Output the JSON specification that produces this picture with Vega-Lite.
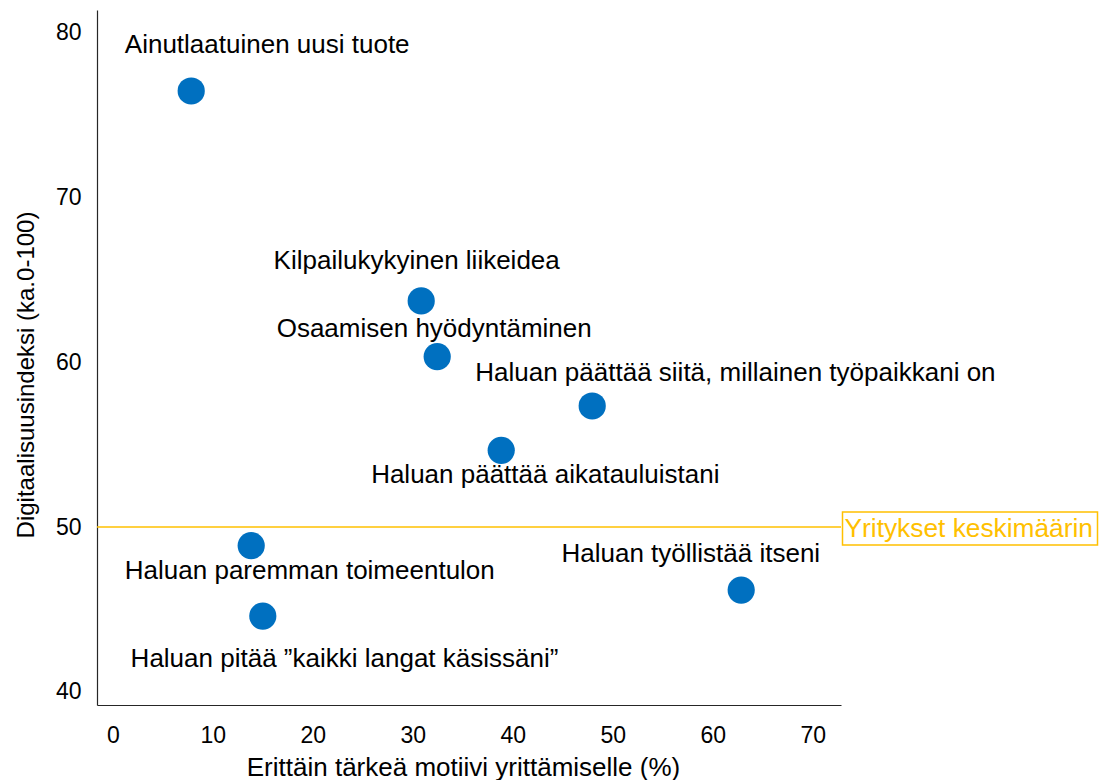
{
  "$schema": "https://vega.github.io/schema/vega-lite/v6.json",
  "width": 744,
  "height": 695,
  "autosize": "none",
  "padding": {"left": 97, "top": 10, "right": 258, "bottom": 75},
  "background": "white",
  "config": {
    "view": {"stroke": null},
    "font": "Liberation Sans",
    "axis": {
      "grid": false,
      "ticks": false,
      "domainColor": "#262626",
      "domainWidth": 1.2,
      "labelColor": "#000000",
      "titleColor": "#000000",
      "labelFont": "Liberation Sans",
      "titleFont": "Liberation Sans",
      "titleFontWeight": "normal",
      "labelFlush": false,
      "labelOverlap": false
    }
  },
  "datasets": {
    "motives": [
      {"id": 1, "label": "Ainutlaatuinen uusi tuote", "x": 7.84, "y": 76.44},
      {"id": 2, "label": "Kilpailukykyinen liikeidea", "x": 30.84, "y": 63.71},
      {"id": 3, "label": "Osaamisen hyödyntäminen", "x": 32.44, "y": 60.33},
      {"id": 4, "label": "Haluan päättää siitä, millainen työpaikkani on", "x": 47.94, "y": 57.34},
      {"id": 5, "label": "Haluan päättää aikatauluistani", "x": 38.84, "y": 54.65},
      {"id": 6, "label": "Haluan paremman toimeentulon", "x": 13.84, "y": 48.87},
      {"id": 7, "label": "Haluan pitää ”kaikki langat käsissäni”", "x": 15.0, "y": 44.6},
      {"id": 8, "label": "Haluan työllistää itseni", "x": 62.84, "y": 46.18}
    ],
    "average": [
      {"avgLabel": "Yritykset keskimäärin", "avg": 50}
    ]
  },
  "layer": [
    {
      "data": {"name": "average"},
      "mark": {"type": "rule", "color": "#FFC000", "strokeWidth": 1.6},
      "encoding": {
        "y": {"field": "avg", "type": "quantitative", "title": "Digitaalisuusindeksi (ka.0-100)", "scale": {"domain": [39.21, 81.35], "nice": false, "zero": false}}
      }
    },
    {
      "data": {"name": "average"},
      "mark": {"type": "rect", "fillOpacity": 0, "fill": "white", "stroke": "#FFC000", "strokeWidth": 1.5},
      "encoding": {
        "x": {"datum": 72.97, "type": "quantitative", "title": "Erittäin tärkeä motiivi yrittämiselle (%)", "scale": {"domain": [-1.58, 72.82], "nice": false, "zero": false}},
        "x2": {"datum": 98.47},
        "y": {"datum": 50.91, "type": "quantitative", "title": "Digitaalisuusindeksi (ka.0-100)", "scale": {"domain": [39.21, 81.35], "nice": false, "zero": false}},
        "y2": {"datum": 48.91}
      }
    },
    {
      "data": {"name": "average"},
      "mark": {"type": "text", "align": "left", "baseline": "alphabetic", "dy": 10.3, "fontSize": 26.3, "color": "#FFC000", "font": "Liberation Sans"},
      "encoding": {
        "x": {"datum": 73.17, "type": "quantitative", "title": "Erittäin tärkeä motiivi yrittämiselle (%)", "scale": {"domain": [-1.58, 72.82], "nice": false, "zero": false}},
        "y": {"field": "avg", "type": "quantitative", "title": "Digitaalisuusindeksi (ka.0-100)", "scale": {"domain": [39.21, 81.35], "nice": false, "zero": false}},
        "text": {"field": "avgLabel"}
      }
    },
    {
      "data": {"name": "motives"},
      "encoding": {
        "x": {
          "field": "x",
          "type": "quantitative",
          "title": "Erittäin tärkeä motiivi yrittämiselle (%)",
          "scale": {"domain": [-1.58, 72.82], "nice": false, "zero": false},
          "axis": {
            "values": [0, 10, 20, 30, 40, 50, 60, 70],
            "title": "Erittäin tärkeä motiivi yrittämiselle (%)",
            "labelFontSize": 23,
            "labelPadding": 37,
            "labelBaseline": "alphabetic",
            "titleFontSize": 26,
            "titleX": 366,
            "titleY": 70,
            "titleBaseline": "alphabetic"
          }
        },
        "y": {
          "field": "y",
          "type": "quantitative",
          "title": "Digitaalisuusindeksi (ka.0-100)",
          "scale": {"domain": [39.21, 81.35], "nice": false, "zero": false},
          "axis": {
            "values": [40, 50, 60, 70, 80],
            "title": "Digitaalisuusindeksi (ka.0-100)",
            "labelFontSize": 23,
            "labelPadding": 16,
            "titleFontSize": 24,
            "titleX": -64,
            "titleY": 364.5,
            "titleBaseline": "alphabetic"
          }
        }
      },
      "layer": [
        {"mark": {"type": "circle", "size": 740, "color": "#0070C0", "opacity": 1}},
        {"transform": [{"filter": "datum.id === 1"}], "mark": {"type": "text", "align": "center", "baseline": "alphabetic", "fontSize": 26, "color": "#000000", "font": "Liberation Sans", "dx": 76, "dy": -37.7}, "encoding": {"text": {"field": "label"}}},
        {"transform": [{"filter": "datum.id === 2"}], "mark": {"type": "text", "align": "center", "baseline": "alphabetic", "fontSize": 26, "color": "#000000", "font": "Liberation Sans", "dx": -4.5, "dy": -31.7}, "encoding": {"text": {"field": "label"}}},
        {"transform": [{"filter": "datum.id === 3"}], "mark": {"type": "text", "align": "center", "baseline": "alphabetic", "fontSize": 26, "color": "#000000", "font": "Liberation Sans", "dx": -3, "dy": -20}, "encoding": {"text": {"field": "label"}}},
        {"transform": [{"filter": "datum.id === 4"}], "mark": {"type": "text", "align": "center", "baseline": "alphabetic", "fontSize": 26, "color": "#000000", "font": "Liberation Sans", "dx": 143.2, "dy": -25}, "encoding": {"text": {"field": "label"}}},
        {"transform": [{"filter": "datum.id === 5"}], "mark": {"type": "text", "align": "center", "baseline": "alphabetic", "fontSize": 26, "color": "#000000", "font": "Liberation Sans", "dx": 44.1, "dy": 32.4}, "encoding": {"text": {"field": "label"}}},
        {"transform": [{"filter": "datum.id === 6"}], "mark": {"type": "text", "align": "center", "baseline": "alphabetic", "fontSize": 26, "color": "#000000", "font": "Liberation Sans", "dx": 58.6, "dy": 33.3}, "encoding": {"text": {"field": "label"}}},
        {"transform": [{"filter": "datum.id === 7"}], "mark": {"type": "text", "align": "center", "baseline": "alphabetic", "fontSize": 26, "color": "#000000", "font": "Liberation Sans", "dx": 81.7, "dy": 50.7}, "encoding": {"text": {"field": "label"}}},
        {"transform": [{"filter": "datum.id === 8"}], "mark": {"type": "text", "align": "center", "baseline": "alphabetic", "fontSize": 26, "color": "#000000", "font": "Liberation Sans", "dx": -50.4, "dy": -27.7}, "encoding": {"text": {"field": "label"}}}
      ]
    }
  ]
}
